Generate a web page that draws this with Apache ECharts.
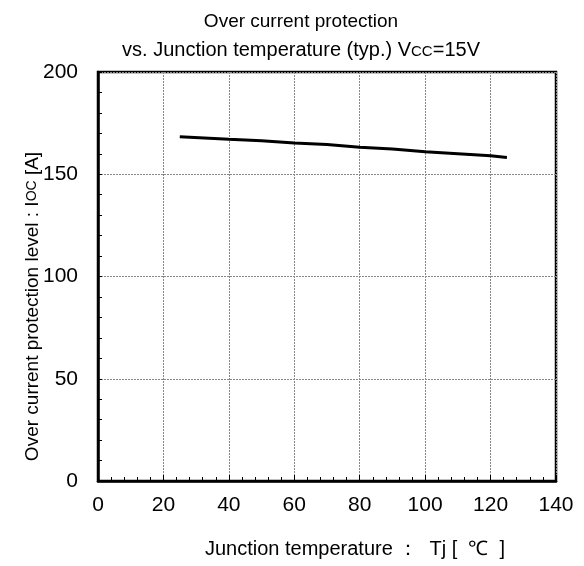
<!DOCTYPE html>
<html><head><meta charset="utf-8">
<script src="https://cdn.jsdelivr.net/npm/echarts@6/dist/echarts.min.js"></script>
<style>html,body{margin:0;padding:0;background:#fff}#c{width:584px;height:566px}</style>
</head><body><div id="c"></div>
<script>
const temps = [25, 40, 50, 60, 70, 80, 90, 100, 110, 120, 125];
const iocValues = [168.3, 167.1, 166.4, 165.3, 164.5, 163.2, 162.3, 161.0, 160.0, 159.0, 158.2];
const xTicks = [0, 20, 40, 60, 80, 100, 120, 140];
const yTicks = [0, 50, 100, 150, 200];

const FONT = "'Liberation Sans', Arial, sans-serif";
const chart = echarts.init(document.getElementById('c'));
chart.setOption({
  animation: false,
  backgroundColor: '#fff',
  title: {
    text: '{a|Over current protection}\n{b|vs. Junction temperature (typ.) V}{s|CC}{b|=15V}',
    left: 301, textAlign: 'center', top: 3, padding: [5, 0, 5, 0],
    textStyle: {
      fontFamily: FONT, fontSize: 19, fontWeight: 'normal', color: '#000', lineHeight: 28,
      rich: {
        a: { fontFamily: FONT, fontSize: 19, color: '#000', lineHeight: 28 },
        b: { fontFamily: FONT, fontSize: 20, color: '#000', lineHeight: 28 },
        s: { fontFamily: FONT, fontSize: 15, color: '#000', lineHeight: 28, padding: [3, 0, 0, 0] }
      }
    }
  },
  grid: { left: 98, right: 28, top: 72, bottom: 85, show: true, borderColor: '#000', borderWidth: 2.5,
          containLabel: false, outerBoundsMode: 'none' },
  xAxis: {
    type: 'value', min: xTicks[0], max: xTicks[xTicks.length - 1], interval: 20,
    name: 'Junction temperature ：  Tj [  ℃  ]', nameLocation: 'middle', nameGap: 58,
    nameMoveOverlap: false,
    nameTextStyle: { fontFamily: FONT, fontSize: 20, color: '#000', padding: [0, 0, 0, 56] },
    axisLine: { show: true, lineStyle: { color: '#000', width: 2.5 } },
    axisTick: { show: true, inside: true, length: 6, lineStyle: { color: '#000', width: 1 } },
    minorTick: { show: true, splitNumber: 5, length: 4, lineStyle: { color: '#000', width: 1 } },
    axisLabel: { fontFamily: FONT, fontSize: 21, color: '#000', margin: 14 },
    splitLine: { show: true, lineStyle: { color: '#888', type: [2, 1], width: 1 } }
  },
  yAxis: {
    type: 'value', min: yTicks[0], max: yTicks[yTicks.length - 1], interval: 50,
    name: 'Over current protection level : I{s|OC} [A]', nameLocation: 'middle', nameGap: 56,
    nameMoveOverlap: false,
    nameTextStyle: { fontFamily: FONT, fontSize: 19, color: '#000', padding: [0, 60, 0, 0],
      rich: { s: { fontFamily: FONT, fontSize: 14, color: '#000' } } },
    axisLine: { show: true, lineStyle: { color: '#000', width: 2.5 } },
    axisTick: { show: true, inside: true, length: 4, lineStyle: { color: '#000', width: 1 } },
    minorTick: { show: true, splitNumber: 5, length: 4, lineStyle: { color: '#000', width: 1 } },
    axisLabel: { fontFamily: FONT, fontSize: 21, color: '#000', margin: 20 },
    splitLine: { show: true, lineStyle: { color: '#888', type: [2, 1], width: 1 } }
  },
  series: [{
    type: 'line', data: temps.map((t, i) => [t, iocValues[i]]),
    symbol: 'none', smooth: false,
    lineStyle: { color: '#000', width: 3 }
  }]
});
</script></body></html>
